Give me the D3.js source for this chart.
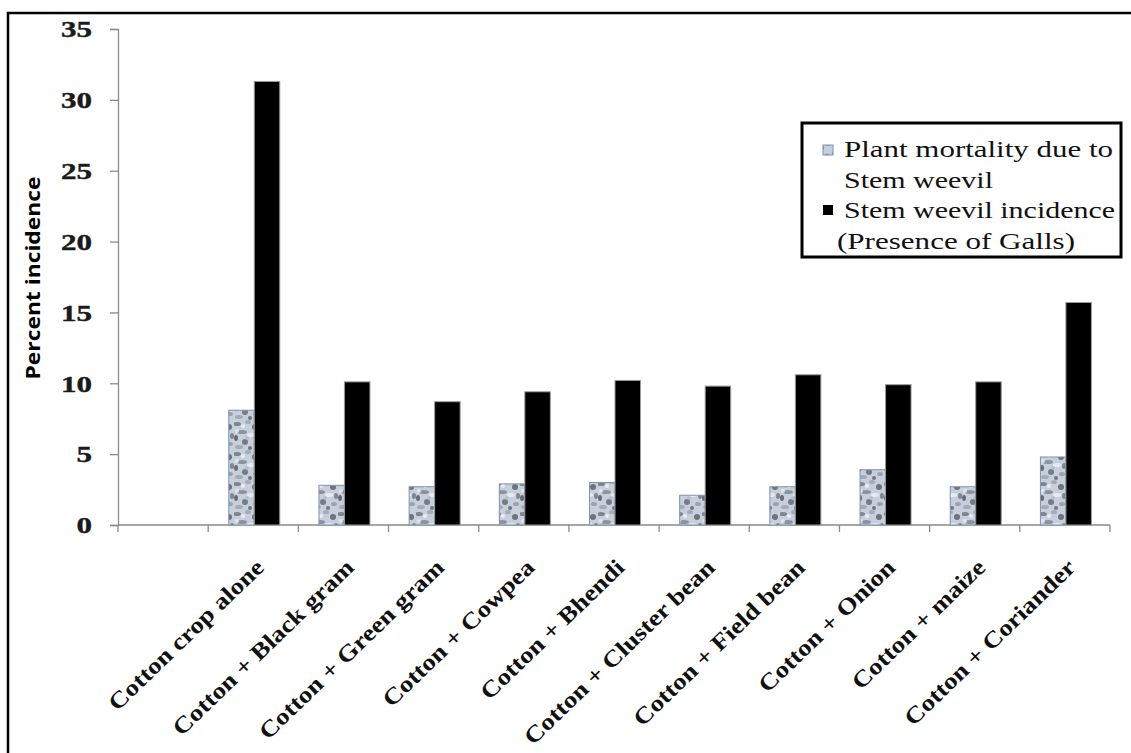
<!DOCTYPE html>
<html>
<head>
<meta charset="utf-8">
<script src="https://cdn.jsdelivr.net/npm/d3@7"></script>
<style>
  html, body { margin: 0; padding: 0; background: #fff; }
  svg { display: block; }
</style>
</head>
<body>
<svg id="chart" width="1131" height="753"></svg>
<script>
// Intercropping treatments (first slot is left empty on the axis)
const categories = ["", "Cotton crop alone", "Cotton + Black gram", "Cotton + Green gram",
  "Cotton + Cowpea", "Cotton + Bhendi", "Cotton + Cluster bean", "Cotton + Field bean",
  "Cotton + Onion", "Cotton + maize", "Cotton + Coriander"];
const seriesNames = ["Plant mortality due to Stem weevil", "Stem weevil incidence (Presence of Galls)"];
const mortality = [null, 8.1, 2.8, 2.7, 2.9, 3.0, 2.1, 2.7, 3.9, 2.7, 4.8];
const incidence = [null, 31.3, 10.1, 8.7, 9.4, 10.2, 9.8, 10.6, 9.9, 10.1, 15.7];
const yTicks = [0, 5, 10, 15, 20, 25, 30, 35];
const legendLines = [["Plant mortality due to", "Stem weevil"], ["Stem weevil incidence", "(Presence of Galls)"]];

const svg = d3.select("#chart");
const x0 = 118, x1 = 1110, yTop = 29, yBase = 525;

const x = d3.scaleBand().domain(categories).range([x0, x1]).paddingInner(0).paddingOuter(0);
const sub = d3.scaleBand().domain([0, 1]).range([0, 51]);
const y = d3.scaleLinear().domain([0, 35]).range([yBase, yTop]);

// Granite-like texture for the mortality bars
const defs = svg.append("defs");
const pat = defs.append("pattern").attr("id", "granite")
  .attr("patternUnits", "userSpaceOnUse").attr("width", 26).attr("height", 30);
pat.append("rect").attr("width", 26).attr("height", 30).attr("fill", "#c6cfdb");
const blobs = [
  [3, 4, 4, 2, "#6d737c"], [14, 2, 3, 2, "#9aa2ad"], [21, 7, 3, 3, "#575d66"],
  [8, 12, 5, 2, "#7e858f"], [2, 18, 2, 3, "#4f555e"], [17, 15, 4, 2, "#eef1f5"],
  [11, 22, 3, 3, "#626871"], [22, 24, 3, 2, "#8f97a2"], [5, 27, 4, 2, "#9aa2ad"],
  [16, 28, 2, 2, "#5a6069"], [9, 6, 2, 2, "#f2f4f7"], [24, 16, 2, 3, "#6d737c"],
  [3, 11, 2, 2, "#e8ecf1"], [13, 18, 2, 2, "#b3bac4"]
];
blobs.forEach(b => pat.append("ellipse").attr("cx", b[0]).attr("cy", b[1])
  .attr("rx", b[2]).attr("ry", b[3]).attr("fill", b[4]).attr("opacity", 0.8));

// Outer frame
svg.append("rect").attr("x", 8).attr("y", 13).attr("width", 1140).attr("height", 760)
  .attr("fill", "none").attr("stroke", "#000").attr("stroke-width", 2.5);

// Y axis
const yAxis = svg.append("g").attr("transform", `translate(${x0},0)`)
  .call(d3.axisLeft(y).tickValues(yTicks).tickSize(8).tickPadding(0));
yAxis.select(".domain").attr("stroke", "#8a8a8a").attr("stroke-width", 1.3);
yAxis.selectAll(".tick line").attr("stroke", "#8a8a8a").attr("stroke-width", 1.3);
yAxis.selectAll(".tick text")
  .attr("font-family", "Liberation Serif, Times New Roman, serif")
  .attr("font-size", 23).attr("fill", "#1a1a1a").attr("font-weight", "600")
  .attr("stroke", "#1a1a1a").attr("stroke-width", 0.4)
  .attr("text-anchor", "end")
  .attr("x", -26 / 1.35).attr("dy", "0.34em")
  .attr("transform", "scale(1.35,1)");

// Y axis title
svg.append("text")
  .attr("transform", "translate(40,278) rotate(-90)")
  .attr("text-anchor", "middle")
  .attr("font-family", "Open Sans, Noto Sans, sans-serif")
  .attr("font-weight", "bold").attr("font-size", 19)
  .attr("textLength", 203).attr("lengthAdjust", "spacingAndGlyphs")
  .text("Percent incidence");

// X axis line and boundary ticks
svg.append("line").attr("x1", x0).attr("x2", x1).attr("y1", yBase).attr("y2", yBase)
  .attr("stroke", "#8a8a8a").attr("stroke-width", 1.3);
const bounds = categories.map(c => x(c)).concat([x1]);
svg.append("g").selectAll("line").data(bounds).join("line")
  .attr("x1", d => d).attr("x2", d => d).attr("y1", yBase).attr("y2", yBase + 7)
  .attr("stroke", "#8a8a8a").attr("stroke-width", 1.3);

// Bars
const pairOffset = (x.bandwidth() - sub.range()[1]) / 2 + 1;
const rows = categories.map((c, i) => ({ c, m: mortality[i], v: incidence[i] })).filter(r => r.m !== null);
const g = svg.append("g");
g.selectAll("rect.mort").data(rows).join("rect").attr("class", "mort")
  .attr("x", d => x(d.c) + pairOffset + sub(0))
  .attr("width", sub.bandwidth())
  .attr("y", d => y(d.m)).attr("height", d => yBase - y(d.m))
  .attr("fill", "url(#granite)").attr("stroke", "#7f93b0").attr("stroke-width", 1);
g.selectAll("rect.inc").data(rows).join("rect").attr("class", "inc")
  .attr("x", d => x(d.c) + pairOffset + sub(1))
  .attr("width", sub.bandwidth())
  .attr("y", d => y(d.v)).attr("height", d => yBase - y(d.v))
  .attr("fill", "#000").attr("stroke", "#9a9a9a").attr("stroke-width", 1);

// Category labels, rotated
svg.append("g").selectAll("text").data(categories.filter(c => c !== "")).join("text")
  .attr("transform", d => `translate(${x(d) + x.bandwidth() / 2 + 12},569) rotate(-44) scale(1.17,1)`)
  .attr("text-anchor", "end")
  .attr("font-family", "Liberation Serif, Times New Roman, serif")
  .attr("font-weight", "bold").attr("font-size", 23).attr("fill", "#111")
  .text(d => d);

// Legend
const lg = svg.append("g");
lg.append("rect").attr("x", 802).attr("y", 123).attr("width", 319).attr("height", 134)
  .attr("fill", "#fff").attr("stroke", "#000").attr("stroke-width", 3);
const lines = [
  { t: legendLines[0][0], y: 157, len: 269, x: 844 },
  { t: legendLines[0][1], y: 188, len: 149, x: 844 },
  { t: legendLines[1][0], y: 218, len: 271, x: 844 },
  { t: legendLines[1][1], y: 249, len: 238, x: 837 }
];
lg.selectAll("text").data(lines).join("text")
  .attr("x", d => d.x).attr("y", d => d.y)
  .attr("font-family", "Liberation Serif, Times New Roman, serif")
  .attr("font-size", 23).attr("fill", "#111")
  .attr("textLength", d => d.len).attr("lengthAdjust", "spacingAndGlyphs")
  .text(d => d.t);
lg.append("rect").attr("x", 823).attr("y", 145).attr("width", 10).attr("height", 10)
  .attr("fill", "url(#granite)").attr("stroke", "#7f93b0").attr("stroke-width", 1);
lg.append("rect").attr("x", 823).attr("y", 205).attr("width", 10).attr("height", 10)
  .attr("fill", "#000");
</script>
</body>
</html>
